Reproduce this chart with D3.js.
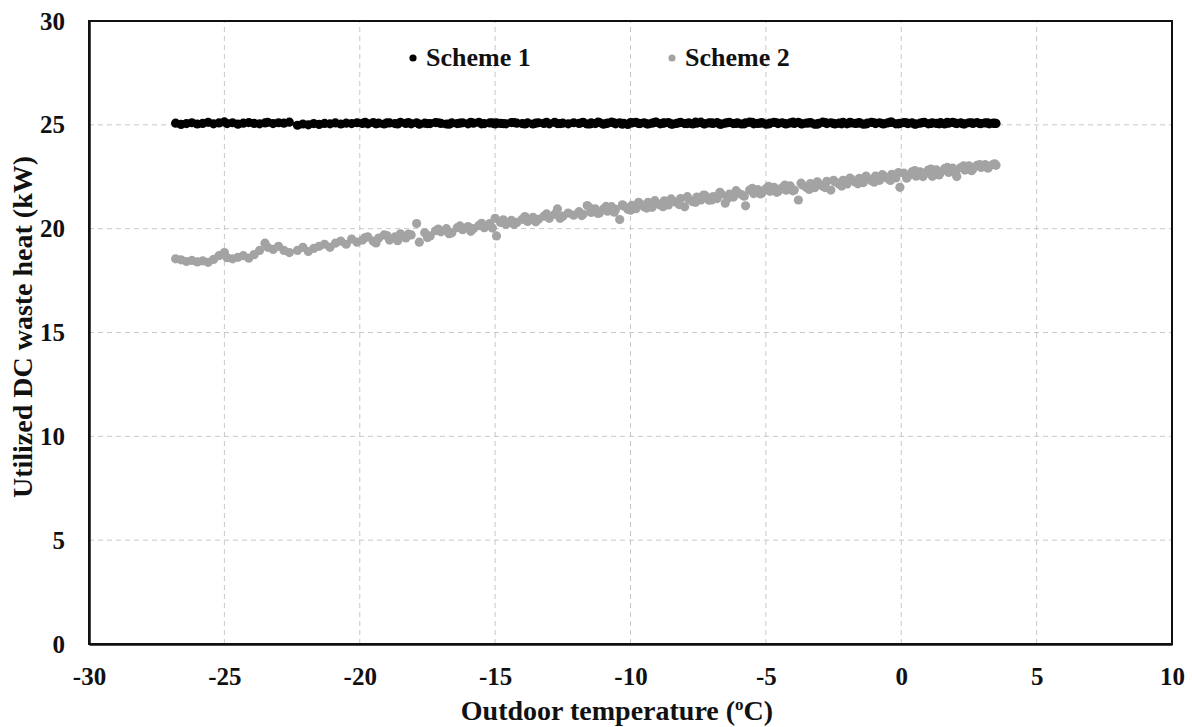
<!DOCTYPE html>
<html>
<head>
<meta charset="utf-8">
<script src="https://cdn.jsdelivr.net/npm/d3@7"></script>
<style>
  body { margin: 0; background: #fff; }
  svg text { font-family: "Liberation Serif", "Times New Roman", serif; font-weight: bold; }
</style>
</head>
<body>
<div id="container"></div>
<script>
/* CONSTANTS AND GLOBALS */
const width = 1192;
const height = 727;
const margin = { top: 21, right: 20, bottom: 83, left: 89 };

/* DATA */
// outdoor temperature, shared by both schemes
const tempC = [
  -26.8, -26.6, -26.4, -26.2, -26.0, -25.8, -25.6, -25.4, -25.2, -25.0,
  -24.9, -24.7, -24.5, -24.3, -24.1, -23.9, -23.7, -23.5, -23.4, -23.2,
  -23.0, -22.8, -22.6, -22.3, -22.1, -21.9, -21.7, -21.5, -21.3, -21.1,
  -20.9, -20.7, -20.5, -20.3, -20.1,
  -19.9, -19.7, -19.5, -19.3, -19.1, -18.9, -18.7, -18.5, -18.3, -18.1,
  -17.9, -17.8, -17.6, -17.4, -17.2, -17.0, -16.8, -16.6, -16.4, -16.2,
  -16.0, -15.8, -15.6, -15.4, -15.2, -15.0, -14.95, -14.8, -14.6, -14.4,
  -14.2, -14.0, -13.8, -13.6, -13.4, -13.2, -13.0, -12.8, -12.7, -12.5,
  -12.3, -12.1,
  -11.9, -11.75, -11.6, -11.45, -11.3, -11.15, -11.0, -10.85, -10.7, -10.55,
  -10.4, -10.25, -10.1, -9.95, -9.8, -9.65, -9.5, -9.35, -9.2, -9.05,
  -8.9, -8.75, -8.6, -8.45, -8.3, -8.15, -8.0, -7.85, -7.7, -7.55,
  -7.4, -7.25, -7.1, -6.95, -6.8, -6.65, -6.5, -6.35, -6.2, -6.05,
  -5.9, -5.75, -5.6, -5.45, -5.3, -5.15, -5.0, -4.85, -4.7, -4.55,
  -4.4, -4.25, -4.1, -3.95, -3.8, -3.65, -3.5, -3.35, -3.2, -3.05,
  -2.9, -2.75, -2.6, -2.45, -2.3, -2.15, -2.0, -1.85, -1.7, -1.55,
  -1.4, -1.25, -1.1, -0.95, -0.8, -0.65, -0.5, -0.35, -0.2, -0.05,
  0.1, 0.25, 0.4, 0.55, 0.7, 0.85, 1.0, 1.15, 1.3, 1.45,
  1.6, 1.75, 1.9, 2.05, 2.2, 2.35, 2.5, 2.65, 2.8, 2.95,
  3.1, 3.25, 3.4, 3.5,
  // more hours in the middle range
  -19.8, -19.4, -19.0, -18.6, -18.2, -17.5, -17.1, -16.7, -16.3, -15.9,
  -15.5, -15.1, -14.7, -14.3, -13.9, -13.5, -13.1, -12.6,
  // more hours in the warm range
  -11.8, -11.5, -11.2, -10.9, -10.6, -10.3, -10.0, -9.7, -9.4, -9.1,
  -8.8, -8.5, -8.2, -7.9, -7.6, -7.3, -7.0, -6.7, -6.4, -6.1,
  -5.8, -5.5, -5.2, -4.9, -4.6, -4.3, -4.0, -3.7, -3.4, -3.1,
  -2.8, -2.5, -2.2, -1.9, -1.6, -1.3, -1.0, -0.7, -0.4, -0.1,
  0.2, 0.5, 0.8, 1.1, 1.4, 1.7, 2.0, 2.3, 2.6, 2.9,
  3.2, 3.45
];

// Scheme 1 utilized DC waste heat (kW)
const scheme1 = [
  25.08, 25.02, 25.06, 25.10, 25.04, 25.07, 25.12, 25.05, 25.09, 25.14,
  25.06, 25.10, 25.03, 25.08, 25.11, 25.07, 25.05, 25.09, 25.12, 25.06,
  25.10, 25.08, 25.13, 24.98, 25.04, 25.00, 25.06, 25.02, 25.07, 25.05,
  25.09, 25.04, 25.08, 25.06, 25.10,
  25.07, 25.05, 25.11, 25.08, 25.04, 25.09, 25.06, 25.12, 25.07, 25.05,
  25.10, 25.03, 25.08, 25.06, 25.11, 25.07, 25.04, 25.09, 25.06, 25.10,
  25.05, 25.08, 25.12, 25.06, 25.09, 25.04, 25.10, 25.07, 25.05, 25.11,
  25.08, 25.06, 25.09, 25.04, 25.10, 25.07, 25.05, 25.12, 25.06, 25.08,
  25.05, 25.10,
  25.07, 25.12, 25.04, 25.09, 25.06, 25.11, 25.03, 25.08, 25.13, 25.05,
  25.10, 25.07, 25.02, 25.09, 25.12, 25.06, 25.10, 25.04, 25.08, 25.13,
  25.05, 25.09, 25.11, 25.03, 25.07, 25.12, 25.06, 25.10, 25.04, 25.08,
  25.13, 25.05, 25.09, 25.07, 25.11, 25.03, 25.08, 25.12, 25.06, 25.10,
  25.04, 25.09, 25.13, 25.05, 25.07, 25.11, 25.03, 25.08, 25.12, 25.06,
  25.10, 25.04, 25.09, 25.07, 25.12, 25.05, 25.08, 25.11, 25.03, 25.07,
  25.13, 25.06, 25.10, 25.04, 25.08, 25.12, 25.05, 25.09, 25.07, 25.11,
  25.03, 25.08, 25.12, 25.06, 25.10, 25.04, 25.09, 25.13, 25.05, 25.07,
  25.11, 25.06, 25.09, 25.04, 25.08, 25.12, 25.05, 25.10, 25.07, 25.11,
  25.04, 25.08, 25.12, 25.06, 25.09, 25.05, 25.10, 25.07, 25.11, 25.06,
  25.09, 25.05, 25.08, 25.07,
  25.12, 25.05, 25.09, 25.04, 25.11, 25.06, 25.10, 25.03, 25.08, 25.12,
  25.05, 25.09, 25.06, 25.11, 25.04, 25.08, 25.12, 25.06,
  25.10, 25.04, 25.13, 25.06, 25.09, 25.03, 25.11, 25.07, 25.05, 25.12,
  25.08, 25.04, 25.10, 25.06, 25.13, 25.05, 25.09, 25.03, 25.11, 25.07,
  25.05, 25.12, 25.08, 25.04, 25.10, 25.06, 25.13, 25.05, 25.09, 25.03,
  25.11, 25.07, 25.05, 25.12, 25.08, 25.04, 25.10, 25.06, 25.13, 25.05,
  25.09, 25.03, 25.11, 25.07, 25.05, 25.12, 25.08, 25.04, 25.10, 25.06,
  25.09, 25.07
];

// Scheme 2 utilized DC waste heat (kW)
const scheme2 = [
  18.55, 18.50, 18.42, 18.47, 18.40, 18.45, 18.38, 18.52, 18.70, 18.85,
  18.60, 18.55, 18.62, 18.70, 18.58, 18.75, 18.95, 19.30, 19.10, 19.00,
  19.15, 18.95, 18.85, 18.95, 19.10, 18.90, 19.05, 19.15, 19.25, 19.10,
  19.30, 19.40, 19.25, 19.50, 19.35,
  19.45, 19.60, 19.40, 19.55, 19.70, 19.45, 19.60, 19.75, 19.55, 19.70,
  20.25, 19.35, 19.80, 19.65, 19.90, 19.85, 20.00, 19.80, 20.05, 19.95,
  20.10, 20.00, 20.15, 20.05, 20.25, 20.50, 19.65, 20.30, 20.20, 20.40,
  20.30, 20.45, 20.35, 20.55, 20.45, 20.60, 20.50, 20.70, 20.95, 20.60,
  20.75, 20.65,
  20.82, 20.69, 21.11, 20.78, 20.95, 20.76, 20.95, 20.84, 21.06, 20.93,
  20.44, 21.09, 20.94, 21.12, 20.96, 21.20, 21.06, 21.27, 21.03, 21.23,
  21.14, 21.34, 21.14, 21.34, 21.26, 21.45, 21.05, 21.42, 21.30, 21.52,
  21.38, 21.60, 21.37, 21.55, 21.45, 21.67, 21.23, 21.66, 21.52, 21.74,
  21.64, 21.10, 21.86, 21.69, 21.88, 21.72, 21.92, 21.80, 21.99, 21.79,
  21.97, 21.85, 22.06, 21.86, 21.38, 22.10, 21.98, 22.17, 21.97, 22.15,
  22.04, 22.28, 21.86, 22.26, 22.15, 22.33, 22.15, 22.39, 22.25, 22.42,
  22.22, 22.42, 22.31, 22.53, 22.33, 22.53, 22.42, 22.62, 22.44, 21.99,
  22.67, 22.53, 22.73, 22.53, 22.74, 22.63, 22.82, 22.52, 22.83, 22.71,
  22.89, 22.71, 22.92, 22.51, 22.94, 22.82, 23.03, 22.89, 23.05, 22.95,
  23.08, 23.01, 23.10, 23.05,
  19.57, 19.31, 19.67, 19.42, 19.74, 19.57, 19.98, 19.76, 20.13, 19.87,
  20.26, 20.03, 20.43, 20.20, 20.58, 20.33, 20.71, 20.50,
  20.63, 21.00, 20.73, 21.07, 20.79, 21.15, 20.89, 21.27, 20.99, 21.35,
  21.06, 21.43, 21.16, 21.54, 21.27, 21.62, 21.38, 21.75, 21.47, 21.83,
  21.56, 21.94, 21.67, 22.04, 21.75, 22.10, 21.82, 22.19, 21.89, 22.26,
  21.97, 22.33, 22.05, 22.43, 22.16, 22.53, 22.24, 22.60, 22.32, 22.70,
  22.43, 22.80, 22.51, 22.87, 22.59, 22.95, 22.69, 23.02, 22.79, 23.09,
  22.91, 23.12
];

const xTicks = [-30, -25, -20, -15, -10, -5, 0, 5, 10];
const yTicks = [0, 5, 10, 15, 20, 25, 30];

const series = [
  { name: "Scheme 1", values: scheme1, color: "#000000" },
  { name: "Scheme 2", values: scheme2, color: "#a3a3a3" }
];

/* SCALES */
const xScale = d3.scaleLinear()
  .domain([-30, 10])
  .range([margin.left, width - margin.right]);

const yScale = d3.scaleLinear()
  .domain([0, 30])
  .range([height - margin.bottom, margin.top]);

/* HTML ELEMENTS */
const svg = d3.select("#container")
  .append("svg")
  .attr("width", width)
  .attr("height", height);

// grid
svg.append("g")
  .selectAll("line")
  .data(xTicks.filter(d => d > -30 && d < 10))
  .join("line")
  .attr("x1", d => xScale(d))
  .attr("x2", d => xScale(d))
  .attr("y1", yScale(0))
  .attr("y2", yScale(30))
  .attr("stroke", "#c8c8c8")
  .attr("stroke-dasharray", "5,4");

svg.append("g")
  .selectAll("line")
  .data(yTicks.filter(d => d > 0 && d < 30))
  .join("line")
  .attr("x1", xScale(-30))
  .attr("x2", xScale(10))
  .attr("y1", d => yScale(d))
  .attr("y2", d => yScale(d))
  .attr("stroke", "#c8c8c8")
  .attr("stroke-dasharray", "5,4");

// points
series.forEach(s => {
  svg.append("g")
    .selectAll("circle")
    .data(tempC.map((t, i) => ({ t, v: s.values[i] })))
    .join("circle")
    .attr("cx", d => xScale(d.t))
    .attr("cy", d => yScale(d.v))
    .attr("r", 4.6)
    .attr("fill", s.color);
});

// frame
svg.append("rect")
  .attr("x", margin.left)
  .attr("y", margin.top)
  .attr("width", width - margin.left - margin.right)
  .attr("height", height - margin.top - margin.bottom)
  .attr("fill", "none")
  .attr("stroke", "#111")
  .attr("stroke-width", 2);

// axes
const x_axis = d3.axisBottom(xScale)
  .tickValues(xTicks)
  .tickFormat(d => String(d))
  .tickSize(0)
  .tickPadding(23);

const y_axis = d3.axisLeft(yScale)
  .tickValues(yTicks)
  .tickFormat(d => String(d))
  .tickSize(0)
  .tickPadding(24);

svg.append("g")
  .attr("transform", `translate(0, ${height - margin.bottom})`)
  .call(x_axis)
  .call(g => g.select(".domain").attr("stroke", "#111").attr("stroke-width", 2.5))
  .selectAll("text")
  .attr("font-size", 25)
  .attr("fill", "#111");

svg.append("g")
  .attr("transform", `translate(${margin.left}, 0)`)
  .call(y_axis)
  .call(g => g.select(".domain").attr("stroke", "#111").attr("stroke-width", 2.5))
  .selectAll("text")
  .attr("font-size", 25)
  .attr("fill", "#111");

// axis titles
const xTitle = svg.append("text")
  .attr("x", 617)
  .attr("y", 720)
  .attr("text-anchor", "middle")
  .attr("font-size", 28)
  .attr("fill", "#111");
xTitle.append("tspan").text("Outdoor temperature (");
xTitle.append("tspan").attr("font-size", 17).attr("dy", -10).text("o");
xTitle.append("tspan").attr("dy", 10).text("C)");

svg.append("text")
  .attr("transform", "translate(32, 327) rotate(-90)")
  .attr("text-anchor", "middle")
  .attr("font-size", 28)
  .attr("fill", "#111")
  .text("Utilized DC waste heat (kW)");

// legend
const legend = svg.append("g")
  .selectAll("g")
  .data(series)
  .join("g")
  .attr("transform", (d, i) => `translate(${i === 0 ? 413 : 672}, 58)`);

legend.append("circle")
  .attr("r", 3.6)
  .attr("fill", d => d.color);

legend.append("text")
  .attr("x", 13)
  .attr("y", 8)
  .attr("font-size", 26)
  .attr("fill", "#111")
  .text(d => d.name);
</script>
</body>
</html>
